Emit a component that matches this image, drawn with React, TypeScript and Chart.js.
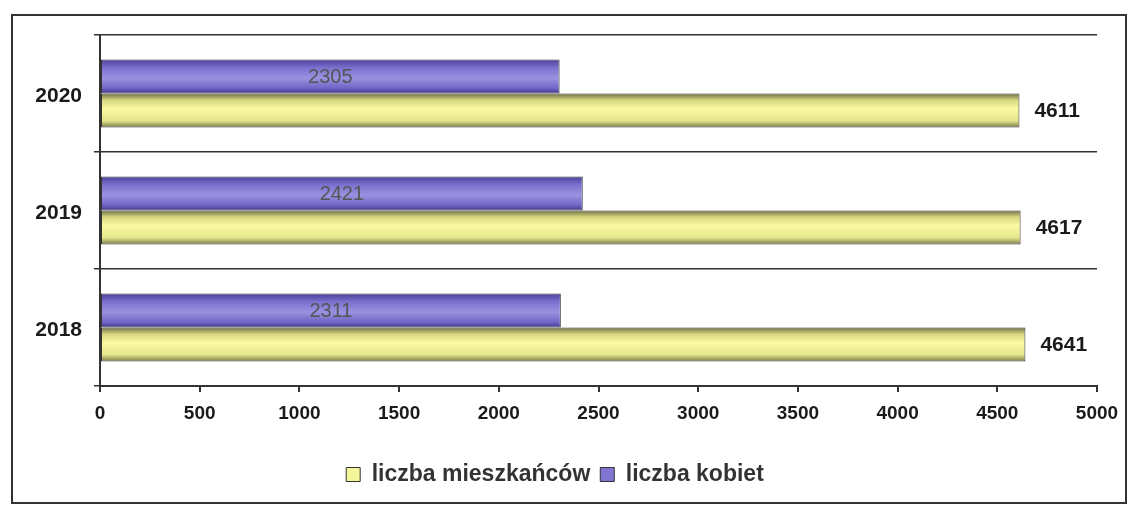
import React, { useEffect, useRef } from 'react';
import { Chart, registerables } from 'chart.js';

Chart.register(...registerables);

const categories = ['2020', '2019', '2018'];
const kobietValues = [2305, 2421, 2311];
const mieszkancowValues = [4611, 4617, 4641];
const xMin = 0;
const xMax = 5000;
const xStep = 500;

const FONT = '"Liberation Sans", Arial, sans-serif';

const gradientPlugin = {
  id: 'barGradient',
  beforeDatasetsDraw(chart: any) {
    const ctx = chart.ctx;
    chart.data.datasets.forEach((ds: any, di: number) => {
      const meta = chart.getDatasetMeta(di);
      const stops: [number, string][] = ds._stops;
      if (!stops) return;
      meta.data.forEach((el: any) => {
        const top = el.y - el.height / 2;
        const bottom = el.y + el.height / 2;
        const g = ctx.createLinearGradient(0, top, 0, bottom);
        stops.forEach(([p, c]) => g.addColorStop(p, c));
        el.options = Object.assign({}, el.options, { backgroundColor: g });
      });
    });
  },
};

const labelPlugin = {
  id: 'valueLabels',
  afterDatasetsDraw(chart: any) {
    const ctx = chart.ctx;
    ctx.save();
    chart.data.datasets.forEach((ds: any, di: number) => {
      const meta = chart.getDatasetMeta(di);
      meta.data.forEach((el: any, i: number) => {
        const v = ds.data[i];
        if (ds._labelInside) {
          ctx.font = `normal 20px ${FONT}`;
          ctx.fillStyle = '#555555';
          ctx.textAlign = 'center';
          ctx.textBaseline = 'middle';
          ctx.fillText(String(v), (el.x + el.base) / 2, el.y + 1);
        } else {
          ctx.font = `bold 21px ${FONT}`;
          ctx.fillStyle = '#1a1a1a';
          ctx.textAlign = 'left';
          ctx.textBaseline = 'middle';
          ctx.fillText(String(v), el.x + 15, el.y + 1);
        }
      });
    });
    ctx.restore();
  },
};

export default function App() {
  const ref = useRef<HTMLCanvasElement | null>(null);

  useEffect(() => {
    if (!ref.current) return;
    const chart = new Chart(ref.current, {
      type: 'bar',
      data: {
        labels: categories,
        datasets: [
          {
            label: 'liczba kobiet',
            data: kobietValues,
            backgroundColor: '#8075d2',
            borderColor: '#333333',
            borderWidth: 1,
            borderSkipped: false,
            _labelInside: true,
            _stops: [
              [0, '#4a3f98'],
              [0.25, '#7d72d0'],
              [0.55, '#9a92e0'],
              [0.85, '#6f64c4'],
              [1, '#3e3488'],
            ],
          } as any,
          {
            label: 'liczba mieszkańców',
            data: mieszkancowValues,
            backgroundColor: '#f5f59a',
            borderColor: '#333333',
            borderWidth: 1,
            borderSkipped: false,
            _labelInside: false,
            _stops: [
              [0, '#6e6e40'],
              [0.2, '#d8d880'],
              [0.45, '#fafaa2'],
              [0.8, '#e6e68c'],
              [1, '#7a7a48'],
            ],
          } as any,
        ],
      },
      options: {
        indexAxis: 'y',
        responsive: false,
        animation: false,
        maintainAspectRatio: false,
        categoryPercentage: 0.58,
        barPercentage: 1,
        layout: { padding: { left: 0, right: 28, top: 19, bottom: 6 } },
        scales: {
          x: {
            min: xMin,
            max: xMax,
            ticks: {
              stepSize: xStep,
              color: '#1a1a1a',
              font: { family: FONT, size: 19, weight: 'bold' },
              padding: 10,
              callback: (v: any) => String(v),
            },
            grid: {
              drawOnChartArea: false,
              drawTicks: true,
              tickLength: 6,
              color: '#333333',
              lineWidth: 2,
            },
            border: { display: true, color: '#333333', width: 2 },
            afterFit: (s: any) => {
              s.height = 67;
              s.paddingLeft = 0;
              s.paddingRight = 0;
            },
          },
          y: {
            ticks: {
              color: '#1a1a1a',
              font: { family: FONT, size: 21, weight: 'bold' },
              padding: 12,
              labelOffset: 3,
            },
            grid: {
              offset: true,
              drawOnChartArea: true,
              drawTicks: true,
              tickLength: 6,
              color: '#333333',
              lineWidth: 1.5,
            },
            border: { display: true, color: '#333333', width: 2 },
            afterFit: (s: any) => {
              s.width = 87;
              s.paddingTop = 0;
              s.paddingBottom = 0;
            },
          },
        },
        plugins: {
          legend: {
            position: 'bottom',
            labels: {
              color: '#333333',
              font: { family: FONT, size: 23, weight: 'bold' },
              boxWidth: 14,
              boxHeight: 14,
              padding: 10,
              sort: (a: any, b: any) => b.datasetIndex - a.datasetIndex,
            },
          },
          tooltip: { enabled: false },
        },
      } as any,
      plugins: [gradientPlugin, labelPlugin],
    });
    return () => chart.destroy();
  }, []);

  return (
    <div
      style={{
        position: 'absolute',
        left: 11,
        top: 14,
        width: 1116,
        height: 490,
        border: '2px solid #333',
        boxSizing: 'border-box',
        background: '#fff',
      }}
    >
      <canvas ref={ref} width={1112} height={486} style={{ display: 'block' }} />
    </div>
  );
}
